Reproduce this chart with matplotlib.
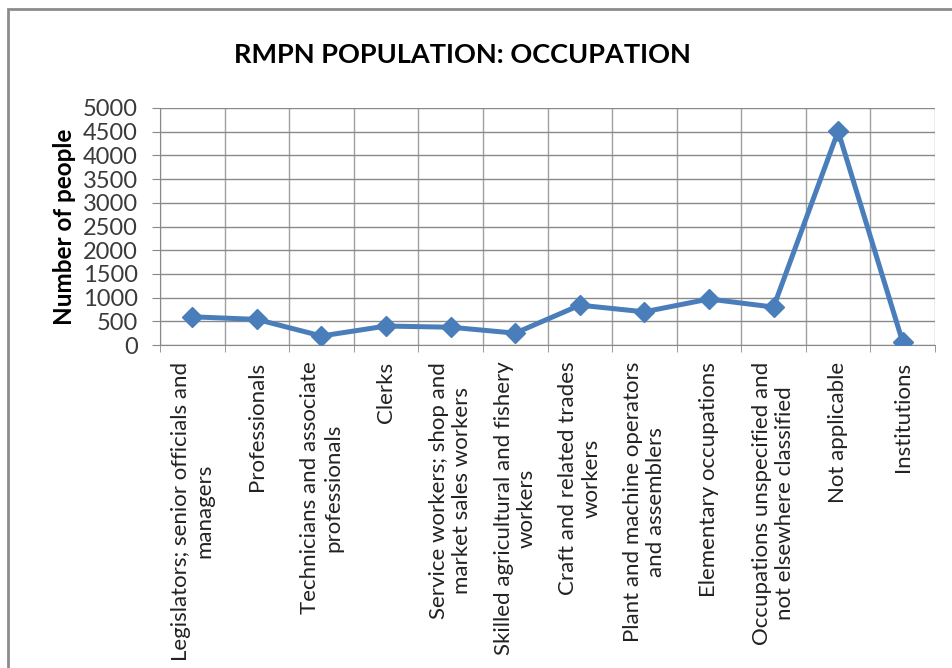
import numpy as np
import matplotlib
matplotlib.use("Agg")
import matplotlib.pyplot as plt
from matplotlib.patches import Rectangle

# 데이터
categories = [
    "Legislators; senior officials and\nmanagers",
    "Professionals",
    "Technicians and associate\nprofessionals",
    "Clerks",
    "Service workers; shop and\nmarket sales workers",
    "Skilled agricultural and fishery\nworkers",
    "Craft and related trades\nworkers",
    "Plant and machine operators\nand assemblers",
    "Elementary occupations",
    "Occupations unspecified and\nnot elsewhere classified",
    "Not applicable",
    "Institutions",
]
people = [595, 540, 190, 400, 375, 250, 840, 700, 970, 800, 4510, 60]
y_ticks = [0, 500, 1000, 1500, 2000, 2500, 3000, 3500, 4000, 4500, 5000]

plt.rcParams['font.family'] = ['Lato', 'DejaVu Sans']

fig = plt.figure(figsize=(9.52, 6.68), dpi=100)
# 바깥 테두리
fig.patches.append(Rectangle((8/952, -0.1), 1.2, (668-9)/668 + 0.1, transform=fig.transFigure,
                             fill=False, edgecolor='#8c8c8c', linewidth=2))

ax = fig.add_axes([160/952, 1 - 345/668, (935-160)/952, (345-108)/668])

x = np.arange(len(categories))
ax.plot(x, people, color='#4a7ebb', linewidth=3.6, marker='D', markersize=10,
        markerfacecolor='#4a7ebb', markeredgecolor='#4a7ebb', zorder=3)

ax.set_xlim(-0.5, len(categories) - 0.5)
ax.set_ylim(0, 5000)
ax.set_yticks(y_ticks)
ax.set_yticklabels([str(v) for v in y_ticks], fontsize=17, color='#3a3a3a')

# 카테고리 경계에 세로 격자
ax.set_xticks(np.arange(len(categories) + 1) - 0.5, minor=True)
ax.set_xticks(x)
ax.set_xticklabels(categories, rotation=90, fontsize=16, color='#222222',
                   ha='center', va='top', multialignment='center', linespacing=1.2)
ax.tick_params(axis='x', which='major', length=0, pad=12)
ax.tick_params(axis='x', which='minor', length=5, color='#888888')
ax.tick_params(axis='y', length=6, color='#888888', pad=10)
ax.grid(axis='y', color='#8a8a8a', linewidth=1)
ax.grid(axis='x', which='minor', color='#a0a0a0', linewidth=1)
ax.set_axisbelow(True)

for s in ['top', 'right']:
    ax.spines[s].set_visible(False)
ax.spines['left'].set_color('#888888')
ax.spines['bottom'].set_color('#888888')

ax.set_ylabel("Number of people", fontsize=17.5, fontweight='bold', labelpad=5)
fig.text(462/952, 1 - 55/668, "RMPN POPULATION: OCCUPATION", fontsize=19.5,
         fontweight='bold', ha='center', va='center')

fig.savefig("out.png", dpi=100)
